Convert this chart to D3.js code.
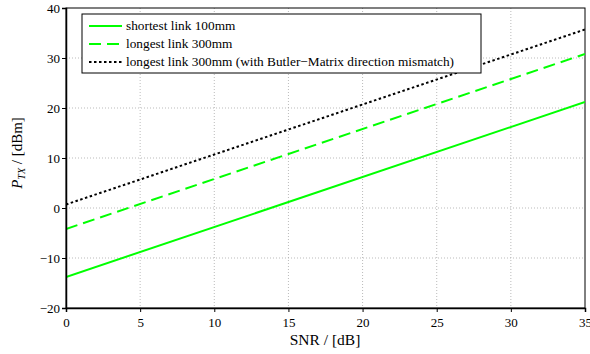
<!DOCTYPE html>
<html lang="en">
    <head>
        <meta charset="utf-8">
        <title>PTX vs SNR</title>
        <script type="text/javascript" src="https://cdn.jsdelivr.net/npm/d3@7"></script>
        <style type="text/css">
            body { margin: 0; background: #fff; }
            svg text { font-family: "Liberation Serif", "DejaVu Serif", serif; fill: #000; }
            .axis path, .axis line { stroke: #000; }
        </style>
    </head>
    <body>
        <script type="text/javascript">
            //Data (two ends of each straight line)
            var snr = [0, 35];
            var shortest100 = [-13.8, 21.2];
            var longest300 = [-4.2, 30.8];
            var longestMismatch = [0.7, 35.7];

            var xTicks = [0, 5, 10, 15, 20, 25, 30, 35];
            var yTicks = [-20, -10, 0, 10, 20, 30, 40];
            var legendLabels = ["shortest link 100mm", "longest link 300mm",
                                "longest link 300mm (with Butler\u2212Matrix direction mismatch)"];

            var w = 590;
            var h = 354;
            //plot box edges (note: "top" is reserved on window, so prefixed)
            var pL = 66, pR = 585, pT = 8, pB = 308;

            var svg = d3.select("body")
                        .append("svg")
                        .attr("width", w)
                        .attr("height", h);

            var xScale = d3.scaleLinear().domain([0, 35]).range([pL, pR]);
            var yScale = d3.scaleLinear().domain([-20, 40]).range([pB, pT]);

            //Dotted grid
            svg.append("g").selectAll("line")
                .data(xTicks.slice(1, -1))
                .enter().append("line")
                .attr("x1", function(d) { return xScale(d); })
                .attr("x2", function(d) { return xScale(d); })
                .attr("y1", pT).attr("y2", pB)
                .attr("stroke", "#aaa").attr("stroke-width", 0.8)
                .attr("stroke-dasharray", "1,2");
            svg.append("g").selectAll("line")
                .data(yTicks.slice(1, -1))
                .enter().append("line")
                .attr("y1", function(d) { return yScale(d); })
                .attr("y2", function(d) { return yScale(d); })
                .attr("x1", pL).attr("x2", pR)
                .attr("stroke", "#aaa").attr("stroke-width", 0.8)
                .attr("stroke-dasharray", "1,2");

            //Frame
            svg.append("rect")
                .attr("x", pL).attr("y", pT)
                .attr("width", pR - pL).attr("height", pB - pT)
                .attr("fill", "none").attr("stroke", "#000").attr("stroke-width", 1);

            //Series
            var series = [
                { v: shortest100, color: "#00ff00", dash: null },
                { v: longest300, color: "#00ff00", dash: "12,6" },
                { v: longestMismatch, color: "#000", dash: "2.5,2.5" }
            ];
            var line = d3.line()
                .x(function(d) { return xScale(d[0]); })
                .y(function(d) { return yScale(d[1]); });

            svg.append("defs").append("clipPath").attr("id", "clip")
                .append("rect").attr("x", pL).attr("y", pT)
                .attr("width", pR - pL).attr("height", pB - pT);

            svg.append("g").attr("clip-path", "url(#clip)")
                .selectAll("path")
                .data(series)
                .enter().append("path")
                .attr("d", function(s) { return line(d3.zip(snr, s.v)); })
                .attr("fill", "none")
                .attr("stroke", function(s) { return s.color; })
                .attr("stroke-width", 2)
                .attr("stroke-dasharray", function(s) { return s.dash; });

            //Axes
            var xAxis = d3.axisBottom(xScale).tickValues(xTicks).tickSize(4).tickPadding(6);
            var yAxis = d3.axisLeft(yScale).tickValues(yTicks).tickSize(4).tickPadding(2)
                            .tickFormat(function(d) { return d < 0 ? "\u2212" + Math.abs(d) : d; });

            svg.append("g")
                .attr("class", "axis")
                .attr("transform", "translate(0," + pB + ")")
                .call(xAxis)
                .call(function(g) { g.select(".domain").attr("stroke-width", 1.5); })
                .selectAll("text").attr("font-size", "13px").attr("font-family", "Liberation Serif");

            svg.append("g")
                .attr("class", "axis")
                .attr("transform", "translate(" + pL + ",0)")
                .call(yAxis)
                .call(function(g) { g.select(".domain").attr("stroke-width", 1.5); })
                .selectAll("text").attr("font-size", "13px").attr("font-family", "Liberation Serif");

            //Axis titles
            svg.append("text")
                .attr("x", 325)
                .attr("y", 345)
                .attr("text-anchor", "middle")
                .attr("font-size", "15.5px")
                .text("SNR / [dB]");

            var yt = svg.append("text")
                .attr("transform", "translate(22,153) rotate(-90)")
                .attr("text-anchor", "middle")
                .attr("font-size", "15px");
            yt.append("tspan").attr("font-style", "italic").text("P");
            yt.append("tspan").attr("font-style", "italic").attr("font-size", "10px").attr("dy", 3).text("TX");
            yt.append("tspan").attr("dy", -3).text(" / [dBm]");

            //Legend
            var lg = svg.append("g");
            lg.append("rect")
                .attr("x", 82).attr("y", 14)
                .attr("width", 399).attr("height", 59)
                .attr("fill", "#fff").attr("stroke", "#000").attr("stroke-width", 1);
            var rows = lg.selectAll("g.row")
                .data(series)
                .enter().append("g")
                .attr("class", "row")
                .attr("transform", function(d, i) { return "translate(0," + (26 + i * 18) + ")"; });
            rows.append("line")
                .attr("x1", 89).attr("x2", 122)
                .attr("stroke", function(s) { return s.color; })
                .attr("stroke-width", 2)
                .attr("stroke-dasharray", function(s) { return s.dash; });
            rows.append("text")
                .attr("x", 126).attr("y", 4)
                .attr("font-size", "13.3px")
                .text(function(d, i) { return legendLabels[i]; });
        </script>
    </body>
</html>
